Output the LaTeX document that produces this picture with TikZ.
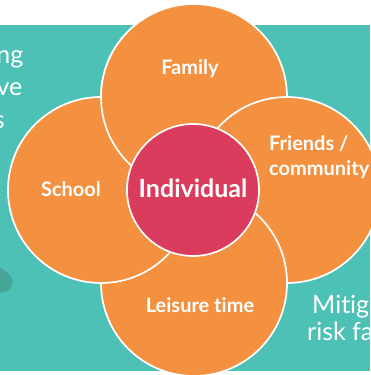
\documentclass[tikz,border=0pt]{standalone}
\usepackage{fontspec}
\setmainfont{Lato}[BoldFont={Lato Bold}, Ligatures=NoCommon]
\usetikzlibrary{calc}

\definecolor{bgteal}{HTML}{4EC1B7}
\definecolor{darkteal}{HTML}{45A597}
\definecolor{petalorange}{HTML}{F39140}
\definecolor{corered}{HTML}{DA3C5D}

\tikzset{
  petal/.style={circle, fill=petalorange, draw=white, line width=1.7pt, minimum size=186pt, inner sep=0pt},
  core/.style={circle, fill=corered, draw=white, line width=1.7pt, minimum size=132pt, inner sep=0pt},
  petaltext/.style={text=white, inner sep=0pt, font=\fontsize{20}{25}\selectfont\bfseries},
  sidetext/.style={text=white, inner sep=0pt, font=\fontsize{25}{27}\selectfont},
}

\begin{document}
\begin{tikzpicture}[x=1pt,y=-1pt]
\useasboundingbox (0,0) rectangle (370,375);
\fill[bgteal] (0,25) rectangle (370,371);
% arrow end sticking in from the left
\coordinate (tipa) at (-30,258);
\coordinate (tipb) at (2,282);
\draw[darkteal, line width=21pt, line cap=round] (tipa) -- (tipb);

% text in the background, left and right
\node[sidetext, anchor=base east] (lft1) at (23.5,63) {ng};
\node[sidetext, anchor=base east] (lft2) at (22.5,95) {ve};
\node[sidetext, anchor=base east] (lft3) at (5,128) {s};
\node[sidetext, anchor=base west] (rgt1) at (312,313) {Mitig};
\node[sidetext, anchor=base west] (rgt2) at (307,340) {risk fa};

% four petals, each one lying over the next
\node[petal] (family) at (194,97) {};
\node[petal] (friends) at (287,190) {};
\node[petal] (leisure) at (194,283) {};
\node[petal] (school) at (101,190) {};
\begin{scope}
\clip (0,0) rectangle (194,190);
\node[petal] (familytop) at (family) {};
\end{scope}

\node[core] (individual) at (193,190) {};

% labels
\node[petaltext] (familytxt) at (190,69) {Family};
\node[petaltext] (schooltxt) at (71,189) {School};
\node[petaltext, anchor=base west, align=left] (friendstxt) at (269,175) {Friends /\\community};
\node[petaltext] (leisuretxt) at (200,305) {Leisure time};
\node[text=white, inner sep=0pt, font=\fontsize{25}{27}\selectfont\bfseries] (indtxt) at (193,188) {Individual};
\end{tikzpicture}
\end{document}
